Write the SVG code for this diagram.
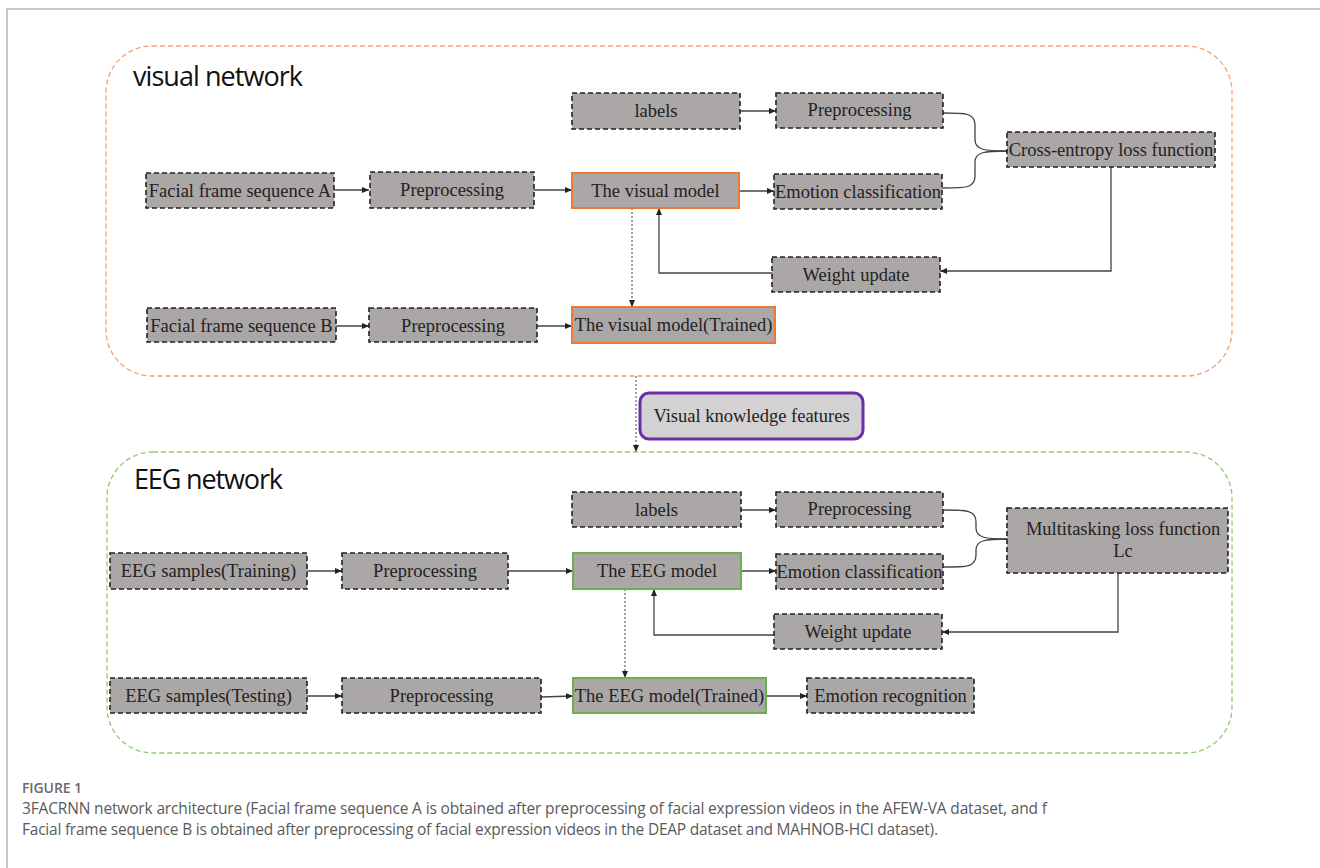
<svg xmlns="http://www.w3.org/2000/svg" width="1320" height="868" viewBox="0 0 1320 868">
<defs>
<marker id="ah" markerWidth="7" markerHeight="6" refX="7" refY="3" orient="auto" markerUnits="userSpaceOnUse"><path d="M0,0 L7,3 L0,6 z" fill="#222"/></marker>
<style>
.nd{fill:#aba7a7;stroke:#222;stroke-width:1.6;stroke-dasharray:5,3}
.vm{fill:#aba7a7;stroke:#ec7a34;stroke-width:2}
.em{fill:#aba7a7;stroke:#6ab04c;stroke-width:2}
.t{font-family:"Liberation Serif","Times New Roman",serif;font-size:18.5px;fill:#222;text-anchor:middle}
.c{fill:none;stroke:#444;stroke-width:1.3}
.d{fill:none;stroke:#444;stroke-width:1;stroke-dasharray:2,2}
.ttl{font-family:"Open Sans","Noto Sans",sans-serif;font-size:27px;fill:#111}
.cap{font-family:"Open Sans","Noto Sans",sans-serif;font-size:15.5px;fill:#5a5a5a}
</style>
</defs>
<rect width="1320" height="868" fill="#fff"/>
<path d="M7,868 L7,9 L1320,9" fill="none" stroke="#b5b5b5" stroke-width="1.5"/>

<g id="visual-network">
<rect x="106" y="46" width="1126" height="330" rx="46" fill="none" stroke="#f2a074" stroke-width="1.3" stroke-dasharray="5,3"/>
<text class="ttl" x="133" y="86" textLength="170">visual network</text>
</g>
<g id="eeg-network">
<rect x="107" y="452" width="1125" height="301" rx="46" fill="none" stroke="#8fcb6c" stroke-width="1.3" stroke-dasharray="5,3"/>
<text class="ttl" x="134" y="489" textLength="149">EEG network</text>
</g>

<g id="connectors">
<line class="c" x1="334" y1="190" x2="369" y2="190" marker-end="url(#ah)"/>
<line class="c" x1="534" y1="190" x2="572" y2="190" marker-end="url(#ah)"/>
<line class="c" x1="740" y1="111" x2="776" y2="111" marker-end="url(#ah)"/>
<line class="c" x1="739" y1="191" x2="774" y2="191" marker-end="url(#ah)"/>
<path class="c" d="M943,113 C966,113 975,113 975,125 L975,140 C975,150 985,151 1007,151"/>
<path class="c" d="M942,188 C966,188 975,188 975,176 L975,162 C975,152 985,151 1007,151"/>
<path class="c" d="M1111,167 L1111,271 L940,271" marker-end="url(#ah)"/>
<path class="c" d="M772,273 L659,273 L659,208" marker-end="url(#ah)"/>
<line class="d" x1="632" y1="208" x2="632" y2="307" marker-end="url(#ah)"/>
<line class="c" x1="336" y1="326" x2="369" y2="326" marker-end="url(#ah)"/>
<line class="c" x1="537" y1="326" x2="572" y2="326" marker-end="url(#ah)"/>
<line class="d" x1="636" y1="376" x2="636" y2="452" marker-end="url(#ah)"/>

<line class="c" x1="307" y1="571" x2="342" y2="571" marker-end="url(#ah)"/>
<line class="c" x1="508" y1="571" x2="573" y2="571" marker-end="url(#ah)"/>
<line class="c" x1="741" y1="510" x2="776" y2="510" marker-end="url(#ah)"/>
<line class="c" x1="741" y1="571" x2="776" y2="571" marker-end="url(#ah)"/>
<path class="c" d="M943,510 C967,510 976,510 976,522 L976,528 C976,538 986,539 1007,539"/>
<path class="c" d="M943,567 C967,567 976,567 976,555 L976,550 C976,540 986,539 1007,539"/>
<path class="c" d="M1118,573 L1118,632 L942,632" marker-end="url(#ah)"/>
<path class="c" d="M774,635 L654,635 L654,589" marker-end="url(#ah)"/>
<line class="d" x1="625" y1="589" x2="625" y2="678" marker-end="url(#ah)"/>
<line class="c" x1="307" y1="696" x2="342" y2="696" marker-end="url(#ah)"/>
<line class="c" x1="541" y1="697" x2="573" y2="696" marker-end="url(#ah)"/>
<line class="c" x1="766" y1="696" x2="807" y2="696" marker-end="url(#ah)"/>
</g>

<g id="facial-a"><rect class="nd" x="146" y="173" width="188" height="35"/><text class="t" x="240" y="197">Facial frame sequence A</text></g>
<g id="v-pre"><rect class="nd" x="370" y="172" width="164" height="36"/><text class="t" x="452" y="196">Preprocessing</text></g>
<g id="visual-model"><rect class="vm" x="572" y="173" width="167" height="35"/><text class="t" x="655.5" y="197">The visual model</text></g>
<g id="v-labels"><rect class="nd" x="572" y="93" width="168" height="36"/><text class="t" x="656" y="117">labels</text></g>
<g id="v-pre2"><rect class="nd" x="776" y="93" width="167" height="35"/><text class="t" x="859.5" y="116">Preprocessing</text></g>
<g id="v-emo"><rect class="nd" x="774" y="174" width="168" height="35"/><text class="t" x="858" y="198">Emotion classification</text></g>
<g id="v-weight"><rect class="nd" x="772" y="257" width="168" height="35"/><text class="t" x="856" y="281">Weight update</text></g>
<g id="v-loss"><rect class="nd" x="1007" y="132" width="208" height="35"/><text class="t" x="1111" y="156">Cross-entropy loss function</text></g>
<g id="facial-b"><rect class="nd" x="147" y="308" width="189" height="34"/><text class="t" x="241.5" y="332">Facial frame sequence B</text></g>
<g id="v-pre3"><rect class="nd" x="369" y="308" width="168" height="34"/><text class="t" x="453" y="332">Preprocessing</text></g>
<g id="visual-trained"><rect class="vm" x="572" y="307" width="203" height="36"/><text class="t" x="673.5" y="331">The visual model(Trained)</text></g>

<g id="knowledge"><rect x="640" y="393" width="223" height="46" rx="9" fill="#d3d1d1" stroke="#6a2fa6" stroke-width="3"/><text class="t" x="751.5" y="422">Visual knowledge features</text></g>

<g id="eeg-train"><rect class="nd" x="110" y="553" width="197" height="36"/><text class="t" x="208.5" y="577">EEG samples(Training)</text></g>
<g id="e-pre"><rect class="nd" x="342" y="553" width="166" height="36"/><text class="t" x="425" y="577">Preprocessing</text></g>
<g id="eeg-model"><rect class="em" x="573" y="553" width="168" height="36"/><text class="t" x="657" y="577">The EEG model</text></g>
<g id="e-labels"><rect class="nd" x="572" y="492" width="169" height="35"/><text class="t" x="656.5" y="516">labels</text></g>
<g id="e-pre2"><rect class="nd" x="776" y="492" width="167" height="35"/><text class="t" x="859.5" y="515">Preprocessing</text></g>
<g id="e-emo"><rect class="nd" x="776" y="554" width="167" height="35"/><text class="t" x="859.5" y="578">Emotion classification</text></g>
<g id="e-weight"><rect class="nd" x="774" y="614" width="168" height="35"/><text class="t" x="858" y="638">Weight update</text></g>
<g id="e-loss"><rect class="nd" x="1007" y="508" width="221" height="65"/><text class="t" x="1123" y="535">Multitasking loss function</text><text class="t" x="1123" y="557">Lc</text></g>
<g id="eeg-test"><rect class="nd" x="110" y="678" width="197" height="35"/><text class="t" x="208.5" y="702">EEG samples(Testing)</text></g>
<g id="e-pre3"><rect class="nd" x="342" y="678" width="199" height="35"/><text class="t" x="441.5" y="702">Preprocessing</text></g>
<g id="eeg-trained"><rect class="em" x="573" y="678" width="193" height="35"/><text class="t" x="669.5" y="702">The EEG model(Trained)</text></g>
<g id="emo-rec"><rect class="nd" x="807" y="678" width="167" height="35"/><text class="t" x="890.5" y="702">Emotion recognition</text></g>

<g id="caption">
<text x="22" y="793" font-family="'Open Sans','Noto Sans',sans-serif" font-size="14" font-weight="600" fill="#6a6a6a" textLength="60">FIGURE 1</text>
<text class="cap" x="22" y="814" textLength="1025">3FACRNN network architecture (Facial frame sequence A is obtained after preprocessing of facial expression videos in the AFEW-VA dataset, and f</text>
<text class="cap" x="22" y="835" textLength="916">Facial frame sequence B is obtained after preprocessing of facial expression videos in the DEAP dataset and MAHNOB-HCI dataset).</text>
</g>
</svg>
